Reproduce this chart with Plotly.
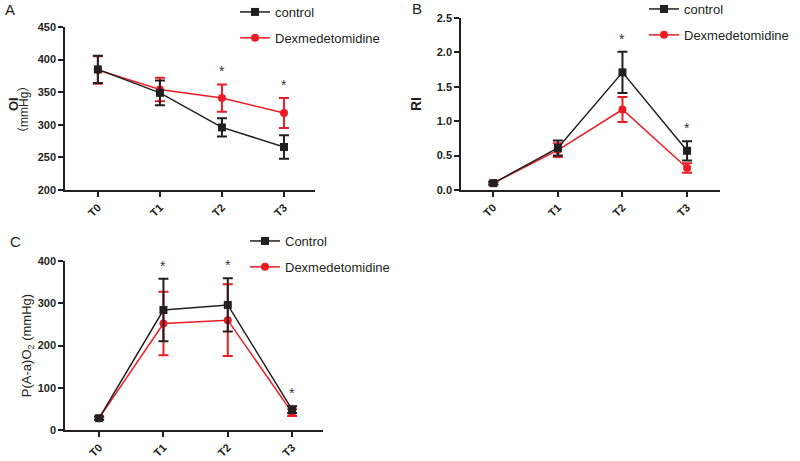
import plotly.graph_objects as go

categories = ["T0", "T1", "T2", "T3"]

# Panel A: OI (mmHg)
oi_ctrl = [385, 349, 296, 266]
oi_ctrl_err = [21, 19, 14, 18]
oi_dex = [384, 354, 341, 318]
oi_dex_err = [21, 18, 21, 23]
oi_sig = [False, False, True, True]

# Panel B: RI
ri_ctrl = [0.10, 0.61, 1.71, 0.57]
ri_ctrl_err = [0.02, 0.11, 0.30, 0.14]
ri_dex = [0.10, 0.58, 1.17, 0.32]
ri_dex_err = [0.02, 0.10, 0.18, 0.07]
ri_sig = [False, False, True, True]

# Panel C: P(A-a)O2 (mmHg)
pa_ctrl = [28, 284, 296, 48]
pa_ctrl_err = [4, 74, 63, 8]
pa_dex = [28, 252, 260, 41]
pa_dex_err = [4, 75, 85, 8]
pa_sig = [False, True, True, True]

W, H = 800, 461
BLACK = "#231f20"
RED = "#ec1c24"
FONT = "Liberation Sans, Arial, sans-serif"

fig = go.Figure()

panels = [
    dict(ax="", ctrl=oi_ctrl, ce=oi_ctrl_err, dex=oi_dex, de=oi_dex_err, sig=oi_sig,
         names=("control", "Dexmedetomidine"), legend="legend"),
    dict(ax="2", ctrl=ri_ctrl, ce=ri_ctrl_err, dex=ri_dex, de=ri_dex_err, sig=ri_sig,
         names=("control", "Dexmedetomidine"), legend="legend2"),
    dict(ax="3", ctrl=pa_ctrl, ce=pa_ctrl_err, dex=pa_dex, de=pa_dex_err, sig=pa_sig,
         names=("Control", "Dexmedetomidine"), legend="legend3"),
]

for p in panels:
    xa, ya = "x" + p["ax"], "y" + p["ax"]
    fig.add_trace(go.Scatter(
        x=categories, y=p["dex"], name=p["names"][1], mode="lines+markers",
        line=dict(color=RED, width=1.5), marker=dict(symbol="circle", size=8, color=RED),
        error_y=dict(type="data", array=p["de"], color=RED, thickness=2, width=5),
        xaxis=xa, yaxis=ya, legend=p["legend"], legendrank=2, legendgroup="d" + p["ax"],
    ))
    fig.add_trace(go.Scatter(
        x=categories, y=p["ctrl"], name=p["names"][0], mode="lines+markers",
        line=dict(color=BLACK, width=1.5), marker=dict(symbol="square", size=8, color=BLACK),
        error_y=dict(type="data", array=p["ce"], color=BLACK, thickness=2, width=5),
        xaxis=xa, yaxis=ya, legend=p["legend"], legendrank=1, legendgroup="c" + p["ax"],
    ))
    for i, s in enumerate(p["sig"]):
        if s:
            top = max(p["ctrl"][i] + p["ce"][i], p["dex"][i] + p["de"][i])
            fig.add_annotation(x=categories[i], y=top, xref=xa, yref=ya, text="*",
                               showarrow=False, yanchor="middle", yshift=13,
                               font=dict(size=14, color="#333333", family=FONT))

def px_x(v):
    return v / W

def px_y(v):
    return 1 - v / H

common_x = dict(showline=True, linecolor=BLACK, linewidth=1.5, ticks="outside", ticklen=5,
                tickwidth=1.5, tickcolor=BLACK, showgrid=False, zeroline=False,
                tickangle=-45, tickfont=dict(size=11, family=FONT, color=BLACK, weight="bold"),
                type="category", automargin=False)
common_y = dict(showline=True, linecolor=BLACK, linewidth=1.5, ticks="outside", ticklen=5,
                tickwidth=1.5, tickcolor=BLACK, showgrid=False, zeroline=False,
                automargin=False,
                tickfont=dict(size=11, family=FONT, color=BLACK, weight="bold"))

fig.update_layout(
    width=W, height=H, margin=dict(l=0, r=0, t=0, b=0, autoexpand=False),
    paper_bgcolor="white", plot_bgcolor="white",
    font=dict(family=FONT, color=BLACK),
    xaxis=dict(common_x, domain=[px_x(65), px_x(315)], range=[-0.53, 3.5], anchor="y"),
    yaxis=dict(common_y, domain=[px_y(190), px_y(27)], range=[200, 450], dtick=50, anchor="x"),
    xaxis2=dict(common_x, domain=[px_x(461), px_x(720)], range=[-0.5, 3.51], anchor="y2"),
    yaxis2=dict(common_y, domain=[px_y(190), px_y(18)], range=[0, 2.5], dtick=0.5,
                tickformat=".1f", anchor="x2",
                title=dict(text="<b>RI</b>", font=dict(size=14, family=FONT), standoff=12)),
    xaxis3=dict(common_x, domain=[px_x(65), px_x(323)], range=[-0.53, 3.48], anchor="y3"),
    yaxis3=dict(common_y, domain=[px_y(430), px_y(261)], range=[0, 400], dtick=100, anchor="x3",
                title=dict(text="P(A-a)O<sub>2</sub> (mmHg)", font=dict(size=13, family=FONT), standoff=3)),
    showlegend=True,
)

# Panel A y-axis title, two lines
fig.add_annotation(x=px_x(13), y=px_y(104), xref="paper", yref="paper", text="<b>OI</b>",
                   textangle=-90, showarrow=False, xanchor="center", yanchor="middle",
                   font=dict(size=13, family=FONT, color=BLACK))
fig.add_annotation(x=px_x(24), y=px_y(110), xref="paper", yref="paper", text="（mmHg）",
                   textangle=-90, showarrow=False, xanchor="center", yanchor="middle",
                   font=dict(size=12, family=FONT + ", Noto Sans CJK SC", color=BLACK))

leg_common = dict(font=dict(size=13, family=FONT, color=BLACK), bgcolor="rgba(0,0,0,0)",
                  traceorder="grouped", tracegroupgap=6, xanchor="left", yanchor="top",
                  itemwidth=30)
fig.update_layout(
    legend=dict(leg_common, x=px_x(235), y=px_y(-3)),
    legend2=dict(leg_common, x=px_x(644), y=px_y(-6)),
    legend3=dict(leg_common, x=px_x(245), y=px_y(226)),
)

for txt, cx, cy in [("A", 10, 10), ("B", 417, 9), ("C", 15, 241)]:
    fig.add_annotation(x=px_x(cx), y=px_y(cy), xref="paper", yref="paper", text=txt,
                       showarrow=False, xanchor="center", yanchor="middle",
                       font=dict(size=15, family=FONT, color=BLACK))

fig.write_html("out.html", post_script="document.body.style.margin='0';",
               config={"displayModeBar": False})
